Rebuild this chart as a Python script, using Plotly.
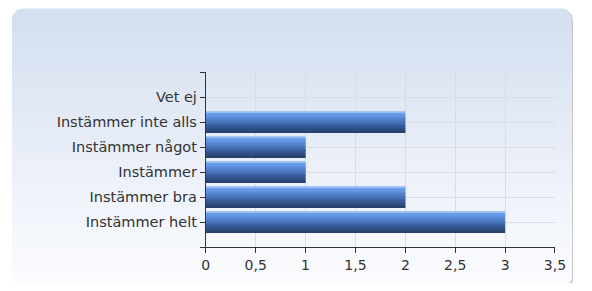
import numpy as np
import plotly.graph_objects as go

categories = ["Instämmer helt", "Instämmer bra", "Instämmer", "Instämmer något", "Instämmer inte alls", "Vet ej"]
values = [3, 2, 1, 1, 2, 0]
x_ticks = [0, 0.5, 1, 1.5, 2, 2.5, 3, 3.5]

W, H = 576, 275
fig = go.Figure()

def rounded_rect(x0, y0, x1, y1, r):
    pts = []
    def arc(cx, cy, a0, a1):
        t = np.linspace(a0, a1, 8)
        return [(cx + r*np.cos(a), cy + r*np.sin(a)) for a in t]
    pts += arc(x1 - r, y1 - r, 0, np.pi/2)
    pts += arc(x0 + r, y1 - r, np.pi/2, np.pi)
    pts += arc(x0 + r, y0 + r, np.pi, 1.5*np.pi)
    pts += arc(x1 - r, y0 + r, 1.5*np.pi, 2*np.pi)
    pts.append(pts[0])
    xs, ys = zip(*pts)
    return list(xs), list(ys)

# panel shadow and gradient panel
sx, sy = rounded_rect(2, H-281, 576, H-1, 11)
fig.add_trace(go.Scatter(x=sx, y=sy, fill="toself", fillcolor="rgba(130,130,130,0.45)",
                         line=dict(width=0), mode="lines", hoverinfo="skip", showlegend=False,
                         xaxis="x", yaxis="y"))
px, py = rounded_rect(0, H-279, 575, H-0.5, 11)
fig.add_trace(go.Scatter(x=px, y=py, fill="toself",
                         fillgradient=dict(type="vertical",
                                           colorscale=[[0, "#fbfcfe"], [0.35, "#eef2fa"], [1, "#d3deef"]]),
                         line=dict(width=0), mode="lines", hoverinfo="skip", showlegend=False,
                         xaxis="x", yaxis="y"))

# bars drawn as stacked strips to mimic the cylinder shading
strip_colors = ["#a6c6f2", "#6a9fea", "#6699e6", "#6193e0", "#5b8cd8", "#5585cf", "#4f7dc5",
                "#4975bb", "#436db0", "#3d65a5", "#385d9a", "#33568f", "#2f4f85", "#2b487a", "#27416e"]
bar_w = 0.84
n = len(strip_colors)
sw = bar_w / n
ypos = list(range(len(categories)))
for i, c in enumerate(strip_colors):
    off = bar_w/2 - (i+1)*sw
    fig.add_trace(go.Bar(x=values, y=ypos, orientation="h", width=sw*1.05, offset=off,
                         marker=dict(color=c, line=dict(width=0)), hoverinfo="skip",
                         showlegend=False, xaxis="x2", yaxis="y2"))

x0p, x1p = 199, 557.5
ytop, ybot = 64, 239
fig.update_layout(
    width=W, height=H, margin=dict(l=0, r=0, t=0, b=0),
    paper_bgcolor="white", plot_bgcolor="rgba(0,0,0,0)",
    barmode="overlay", separators=", ",
    font=dict(family="DejaVu Sans", size=12, color="#333333"),
    xaxis=dict(domain=[0, 1], range=[0, W], visible=False, fixedrange=True),
    yaxis=dict(domain=[0, 1], range=[0, H], visible=False, fixedrange=True),
    xaxis2=dict(domain=[x0p/W, x1p/W], anchor="y2", range=[0, 3.5],
                tickvals=x_ticks, tickformat=".1~f",
                showgrid=True, gridcolor="#d9dde3", gridwidth=1,
                showline=True, linecolor="#333333", linewidth=1,
                ticks="outside", ticklen=5, tickcolor="#333333",
                tickfont=dict(size=14, color="#333333"), zeroline=False),
    yaxis2=dict(domain=[1-ybot/H, 1-ytop/H], anchor="x2", range=[-1, 6],
                tickvals=[-1] + ypos + [6], ticktext=[""] + categories + [""],
                showgrid=True, gridcolor="#d9dde3", gridwidth=1,
                showline=True, linecolor="#333333", linewidth=1,
                ticks="outside", ticklen=5, tickcolor="#333333",
                tickfont=dict(size=14.5, color="#333333"), zeroline=False),
)
fig.write_html("out.html")
